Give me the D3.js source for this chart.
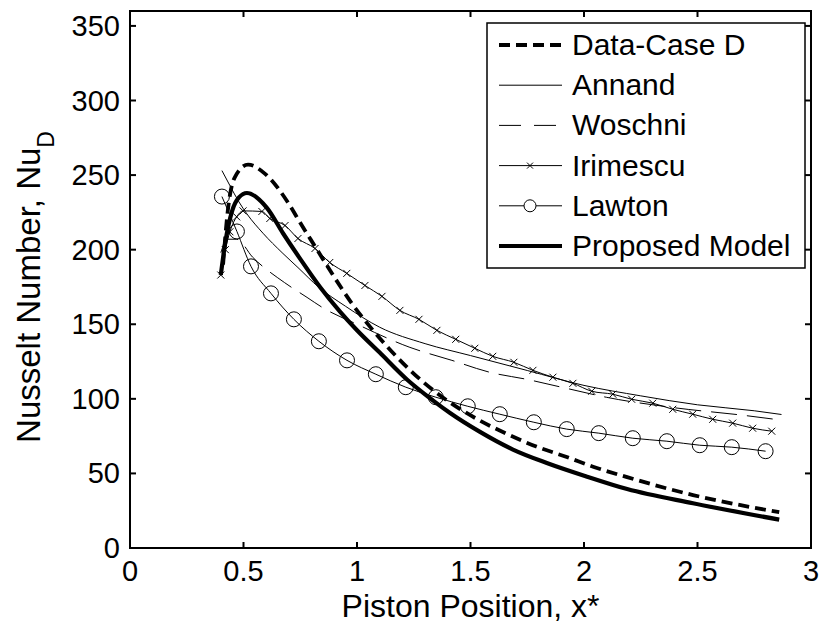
<!DOCTYPE html>
<html>
<head>
<meta charset="utf-8">
<script src="https://cdn.jsdelivr.net/npm/d3@7"></script>
<style>
  body { margin: 0; background: #fff; }
  text { font-family: "Liberation Sans", Arial, sans-serif; fill: #000; }
</style>
</head>
<body>
<div id="chart"></div>
<script>
// values (x = piston position, y = Nusselt number)
const dataX     = [0.41, 0.43, 0.46, 0.52, 0.594, 0.69, 0.75, 0.82, 0.894, 0.977, 1.07, 1.176, 1.286, 1.396, 1.528, 1.66, 1.79, 1.924, 2.04, 2.19, 2.48, 2.86];
const dataY     = [190, 225, 248, 257, 251, 233, 218, 201, 183, 164, 146, 128, 112, 99, 86.5, 76.5, 68, 61, 54.5, 47.5, 35.5, 24];

const annandX   = [0.405, 0.44, 0.48, 0.515, 0.586, 0.67, 0.74, 0.83, 0.95, 1.1, 1.3, 1.5, 1.75, 2.0, 2.25, 2.5, 2.75, 2.87];
const annandY   = [253, 243, 232, 224, 211, 198, 188, 175, 162, 148, 137, 129, 119, 109, 102, 96, 92, 89.5];

const woschniX  = [0.4, 0.43, 0.47, 0.54, 0.68, 0.78, 0.85, 1.0, 1.233, 1.418, 1.585, 1.75, 1.924, 2.1, 2.4, 2.7, 2.87];
const woschniY  = [198, 207, 207, 195, 178, 168, 161, 150, 134.5, 125.8, 117.8, 113, 107, 101, 94, 89, 85.7];

const irimescuX = [0.40, 0.42, 0.44, 0.47, 0.498, 0.581, 0.616, 0.683, 0.74, 0.815, 0.88, 0.955, 1.035, 1.11, 1.189, 1.273, 1.352, 1.435, 1.519, 1.598, 1.691, 1.775, 1.863, 1.951, 2.034, 2.127, 2.21, 2.303, 2.391, 2.479, 2.567, 2.655, 2.743, 2.827];
const irimescuY = [183, 200, 212, 222, 226, 225.6, 220.9, 216.2, 207.5, 200.8, 191.4, 184.1, 176, 168.7, 159.3, 153.3, 145.9, 139.9, 133.9, 128.5, 124.5, 119.1, 114.5, 110.4, 105.1, 103.1, 99.7, 97.1, 93, 89.7, 86.3, 83.7, 80.3, 78.3];

const lawtonX   = [0.405, 0.471, 0.533, 0.621, 0.722, 0.832, 0.956, 1.083, 1.215, 1.347, 1.488, 1.629, 1.779, 1.924, 2.065, 2.215, 2.365, 2.51, 2.651, 2.80];
const lawtonY   = [235.6, 212.2, 188.8, 170.7, 153.3, 138.6, 125.8, 116.5, 107.8, 101.1, 95, 89.7, 84.3, 79.7, 77, 73.6, 71.6, 68.9, 67.6, 64.9];

const proposedX = [0.40, 0.42, 0.45, 0.48, 0.515, 0.603, 0.674, 0.749, 0.837, 0.925, 1.0, 1.1, 1.22, 1.334, 1.41, 1.54, 1.687, 1.836, 2.01, 2.19, 2.48, 2.86];
const proposedY = [183, 205, 226, 235, 238, 228, 211, 194, 175, 158.5, 146, 131, 113, 99, 90.5, 78, 66, 57, 48, 39.5, 30, 19];

const xTicks = [0, 0.5, 1, 1.5, 2, 2.5, 3];
const yTicks = [0, 50, 100, 150, 200, 250, 300, 350];
const legendNames = ["Data-Case D", "Annand", "Woschni", "Irimescu", "Lawton", "Proposed Model"];

const width = 823, height = 626;
const margin = {left: 130, right: 12, top: 11, bottom: 78};

const svg = d3.select("#chart")
  .append("svg")
  .attr("width", width)
  .attr("height", height);

const x = d3.scaleLinear().domain([0, 3]).range([margin.left, width - margin.right]);
const y = d3.scaleLinear().domain([0, 360]).range([height - margin.bottom, margin.top]);

const zip = (xs, ys) => xs.map((v, i) => [v, ys[i]]);

const series = [
  {name: legendNames[0], pts: zip(dataX, dataY), w: 3.8, dash: "11,6"},
  {name: legendNames[1], pts: zip(annandX, annandY), w: 1, dash: null},
  {name: legendNames[2], pts: zip(woschniX, woschniY), w: 1, dash: "26,10"},
  {name: legendNames[3], pts: zip(irimescuX, irimescuY), w: 1, dash: null, marker: "x"},
  {name: legendNames[4], pts: zip(lawtonX, lawtonY), w: 1, dash: null, marker: "o"},
  {name: legendNames[5], pts: zip(proposedX, proposedY), w: 4.2, dash: null}
];

const line = d3.line()
  .x(d => x(d[0]))
  .y(d => y(d[1]))
  .curve(d3.curveMonotoneX);

const plot = svg.append("g");

series.forEach(s => {
  plot.append("path")
    .datum(s.pts)
    .attr("fill", "none")
    .attr("stroke", "#000")
    .attr("stroke-width", s.w)
    .attr("stroke-dasharray", s.dash)
    .attr("d", line);

  if (s.marker === "x") {
    plot.append("g").selectAll("path")
      .data(s.pts)
      .join("path")
      .attr("d", d => {
        const cx = x(d[0]), cy = y(d[1]), r = 3.5;
        return `M${cx - r},${cy - r}L${cx + r},${cy + r}M${cx - r},${cy + r}L${cx + r},${cy - r}`;
      })
      .attr("stroke", "#000")
      .attr("stroke-width", 1);
  }
  if (s.marker === "o") {
    plot.append("g").selectAll("circle")
      .data(s.pts)
      .join("circle")
      .attr("cx", d => x(d[0]))
      .attr("cy", d => y(d[1]))
      .attr("r", 7.5)
      .attr("fill", "none")
      .attr("stroke", "#000")
      .attr("stroke-width", 1);
  }
});

// axes, MATLAB style box with inward ticks
const tick = 6;
const x0 = x.range()[0], x1 = x.range()[1], y0 = y.range()[0], y1 = y.range()[1];

const axes = svg.append("g").attr("stroke", "#000").attr("stroke-width", 2);
axes.append("rect")
  .attr("x", x0).attr("y", y1)
  .attr("width", x1 - x0).attr("height", y0 - y1)
  .attr("fill", "none");

xTicks.forEach(t => {
  axes.append("line").attr("x1", x(t)).attr("x2", x(t)).attr("y1", y0).attr("y2", y0 - tick);
  axes.append("line").attr("x1", x(t)).attr("x2", x(t)).attr("y1", y1).attr("y2", y1 + tick);
});
yTicks.forEach(t => {
  axes.append("line").attr("x1", x0).attr("x2", x0 + tick).attr("y1", y(t)).attr("y2", y(t));
  axes.append("line").attr("x1", x1).attr("x2", x1 - tick).attr("y1", y(t)).attr("y2", y(t));
});

svg.append("g").selectAll("text")
  .data(xTicks)
  .join("text")
  .attr("x", d => x(d))
  .attr("y", y0 + 33)
  .attr("text-anchor", "middle")
  .attr("font-size", 29)
  .text(d => d);

svg.append("g").selectAll("text")
  .data(yTicks)
  .join("text")
  .attr("x", x0 - 10)
  .attr("y", d => y(d) + 10)
  .attr("text-anchor", "end")
  .attr("font-size", 29)
  .text(d => d);

// axis titles
svg.append("text")
  .attr("x", (x0 + x1) / 2)
  .attr("y", 617)
  .attr("text-anchor", "middle")
  .attr("font-size", 32)
  .text("Piston Position, x*");

const yl = svg.append("text")
  .attr("transform", "translate(40,287) rotate(-90)")
  .attr("text-anchor", "middle")
  .attr("font-size", 33);
yl.append("tspan").text("Nusselt Number, Nu");
yl.append("tspan").attr("font-size", 23).attr("dy", 14).text("D");

// legend
const lg = svg.append("g");
lg.append("rect")
  .attr("x", 487).attr("y", 23)
  .attr("width", 318).attr("height", 245)
  .attr("fill", "#fff")
  .attr("stroke", "#000")
  .attr("stroke-width", 1.5);

series.forEach((s, i) => {
  const ly = 45 + i * 40.2;
  lg.append("line")
    .attr("x1", 499).attr("x2", 562)
    .attr("y1", ly).attr("y2", ly)
    .attr("stroke", "#000")
    .attr("stroke-width", s.w)
    .attr("stroke-dasharray", i === 2 ? "22,13" : s.dash);
  if (s.marker === "x") {
    lg.append("path")
      .attr("d", `M527,${ly - 3}L533,${ly + 3}M527,${ly + 3}L533,${ly - 3}`)
      .attr("stroke", "#000");
  }
  if (s.marker === "o") {
    lg.append("circle")
      .attr("cx", 530).attr("cy", ly).attr("r", 6)
      .attr("fill", "#fff").attr("stroke", "#000");
  }
  lg.append("text")
    .attr("x", 572)
    .attr("y", ly + 10)
    .attr("font-size", 30)
    .text(s.name);
});
</script>
</body>
</html>
